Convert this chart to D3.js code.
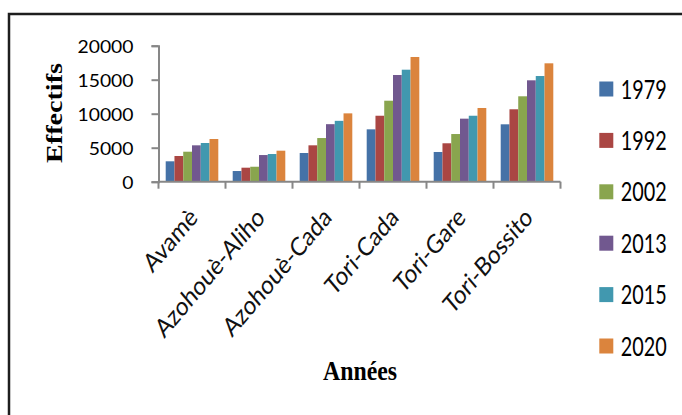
<!DOCTYPE html>
<html><head><meta charset="utf-8">
<script src="https://cdn.jsdelivr.net/npm/d3@7"></script>
<style>body{margin:0;background:#fff;} svg{display:block;}</style>
</head><body>
<svg id="c" width="682" height="415"></svg>
<script>
const categories = ["Avamè","Azohouè-Aliho","Azohouè-Cada","Tori-Cada","Tori-Gare","Tori-Bossito"];
const years = ["1979","1992","2002","2013","2015","2020"];
const v1979 = [3000,1570,4220,7700,4370,8440];
const v1992 = [3780,2060,5350,9700,5650,10650];
const v2002 = [4410,2200,6420,11910,7010,12560];
const v2013 = [5350,3920,8460,15690,9270,14910];
const v2015 = [5690,4070,8950,16470,9700,15540];
const v2020 = [6280,4560,10050,18340,10840,17410];
const yTicks = [0,5000,10000,15000,20000];
const colors = ["#4572A7","#AA4643","#89A54E","#71588F","#4198AF","#DB843D"];
const series = [v1979,v1992,v2002,v2013,v2015,v2020];

const svg = d3.select("#c");
const axisColor = "#878787";
// frame
svg.append("rect").attr("x",9).attr("y",14).attr("width",720).attr("height",440)
  .attr("fill","none").attr("stroke","#1e1e1e").attr("stroke-width",2.5);

const x0 = d3.scaleBand().domain(categories).range([158.5,560.5]).paddingInner(0.215).paddingOuter(0.1075);
const x1 = d3.scaleBand().domain(years).range([0,x0.bandwidth()]);
const y = d3.scaleLinear().domain([0,20000]).range([181.7,45.7]);
const color = d3.scaleOrdinal().domain(years).range(colors);

// bars
const g = svg.append("g");
categories.forEach((c,ci)=>{
  years.forEach((yr,si)=>{
    const v = series[si][ci];
    g.append("rect").attr("x",x0(c)+x1(yr)).attr("y",y(v))
      .attr("width",x1.bandwidth()).attr("height",y(0)-y(v))
      .attr("fill",color(yr));
  });
});

// y axis
const yAxis = svg.append("g").attr("transform","translate(158.5,0)")
  .call(d3.axisLeft(y).tickValues(yTicks).tickSize(7).tickPadding(18).tickFormat(d3.format("d")));
yAxis.select(".domain").attr("stroke",axisColor).attr("stroke-width",2);
yAxis.selectAll(".tick line").attr("stroke",axisColor).attr("stroke-width",2);
yAxis.selectAll(".tick text").attr("font-family","Lato").attr("font-size",16.3).attr("fill","#000")
  .attr("dy","0.4em").attr("textLength",function(d){return String(d).length*11.2;}).attr("lengthAdjust","spacingAndGlyphs");

// x axis
const xAxisG = svg.append("g").attr("transform","translate(0,181.7)");
xAxisG.append("line").attr("x1",158.5).attr("x2",560.5).attr("y1",0).attr("y2",0)
  .attr("stroke",axisColor).attr("stroke-width",2);
const bounds = categories.map(c=>x0(c)-x0.step()*x0.paddingInner()/2).concat([560.5]);
xAxisG.selectAll("line.tk").data(bounds).join("line").attr("class","tk")
  .attr("x1",d=>d).attr("x2",d=>d).attr("y1",0).attr("y2",7)
  .attr("stroke",axisColor).attr("stroke-width",2);

// category labels
svg.append("g").selectAll("text").data(categories).join("text")
  .attr("transform",d=>`translate(${x0(d)+x0.bandwidth()/2+7},219) scale(1,1.18) rotate(-45)`)
  .attr("text-anchor","end").attr("font-family","Lato").attr("font-size",22).attr("fill","#111")
  .text(d=>d);

// axis titles
svg.append("text").attr("x",360).attr("y",380).attr("text-anchor","middle")
  .attr("font-family","Liberation Serif").attr("font-weight","bold").attr("font-size",27)
  .attr("textLength",74).attr("lengthAdjust","spacingAndGlyphs").text("Années");
svg.append("text").attr("transform","translate(61.7,113) rotate(-90)").attr("text-anchor","middle")
  .attr("font-family","Liberation Serif").attr("font-weight","bold").attr("font-size",22.6)
  .attr("textLength",100).attr("lengthAdjust","spacingAndGlyphs").text("Effectifs");

// legend
const leg = svg.append("g");
years.forEach((yr,i)=>{
  const cy = 89 + i*51.4;
  leg.append("rect").attr("x",599.3).attr("y",cy-7.5).attr("width",14).attr("height",15).attr("fill",color(yr));
  leg.append("text").attr("x",620.7).attr("y",cy+9.5).attr("font-family","Lato").attr("font-size",26.5)
    .attr("textLength",46).attr("lengthAdjust","spacingAndGlyphs").attr("fill","#000").text(yr);
});
</script>
</body></html>
